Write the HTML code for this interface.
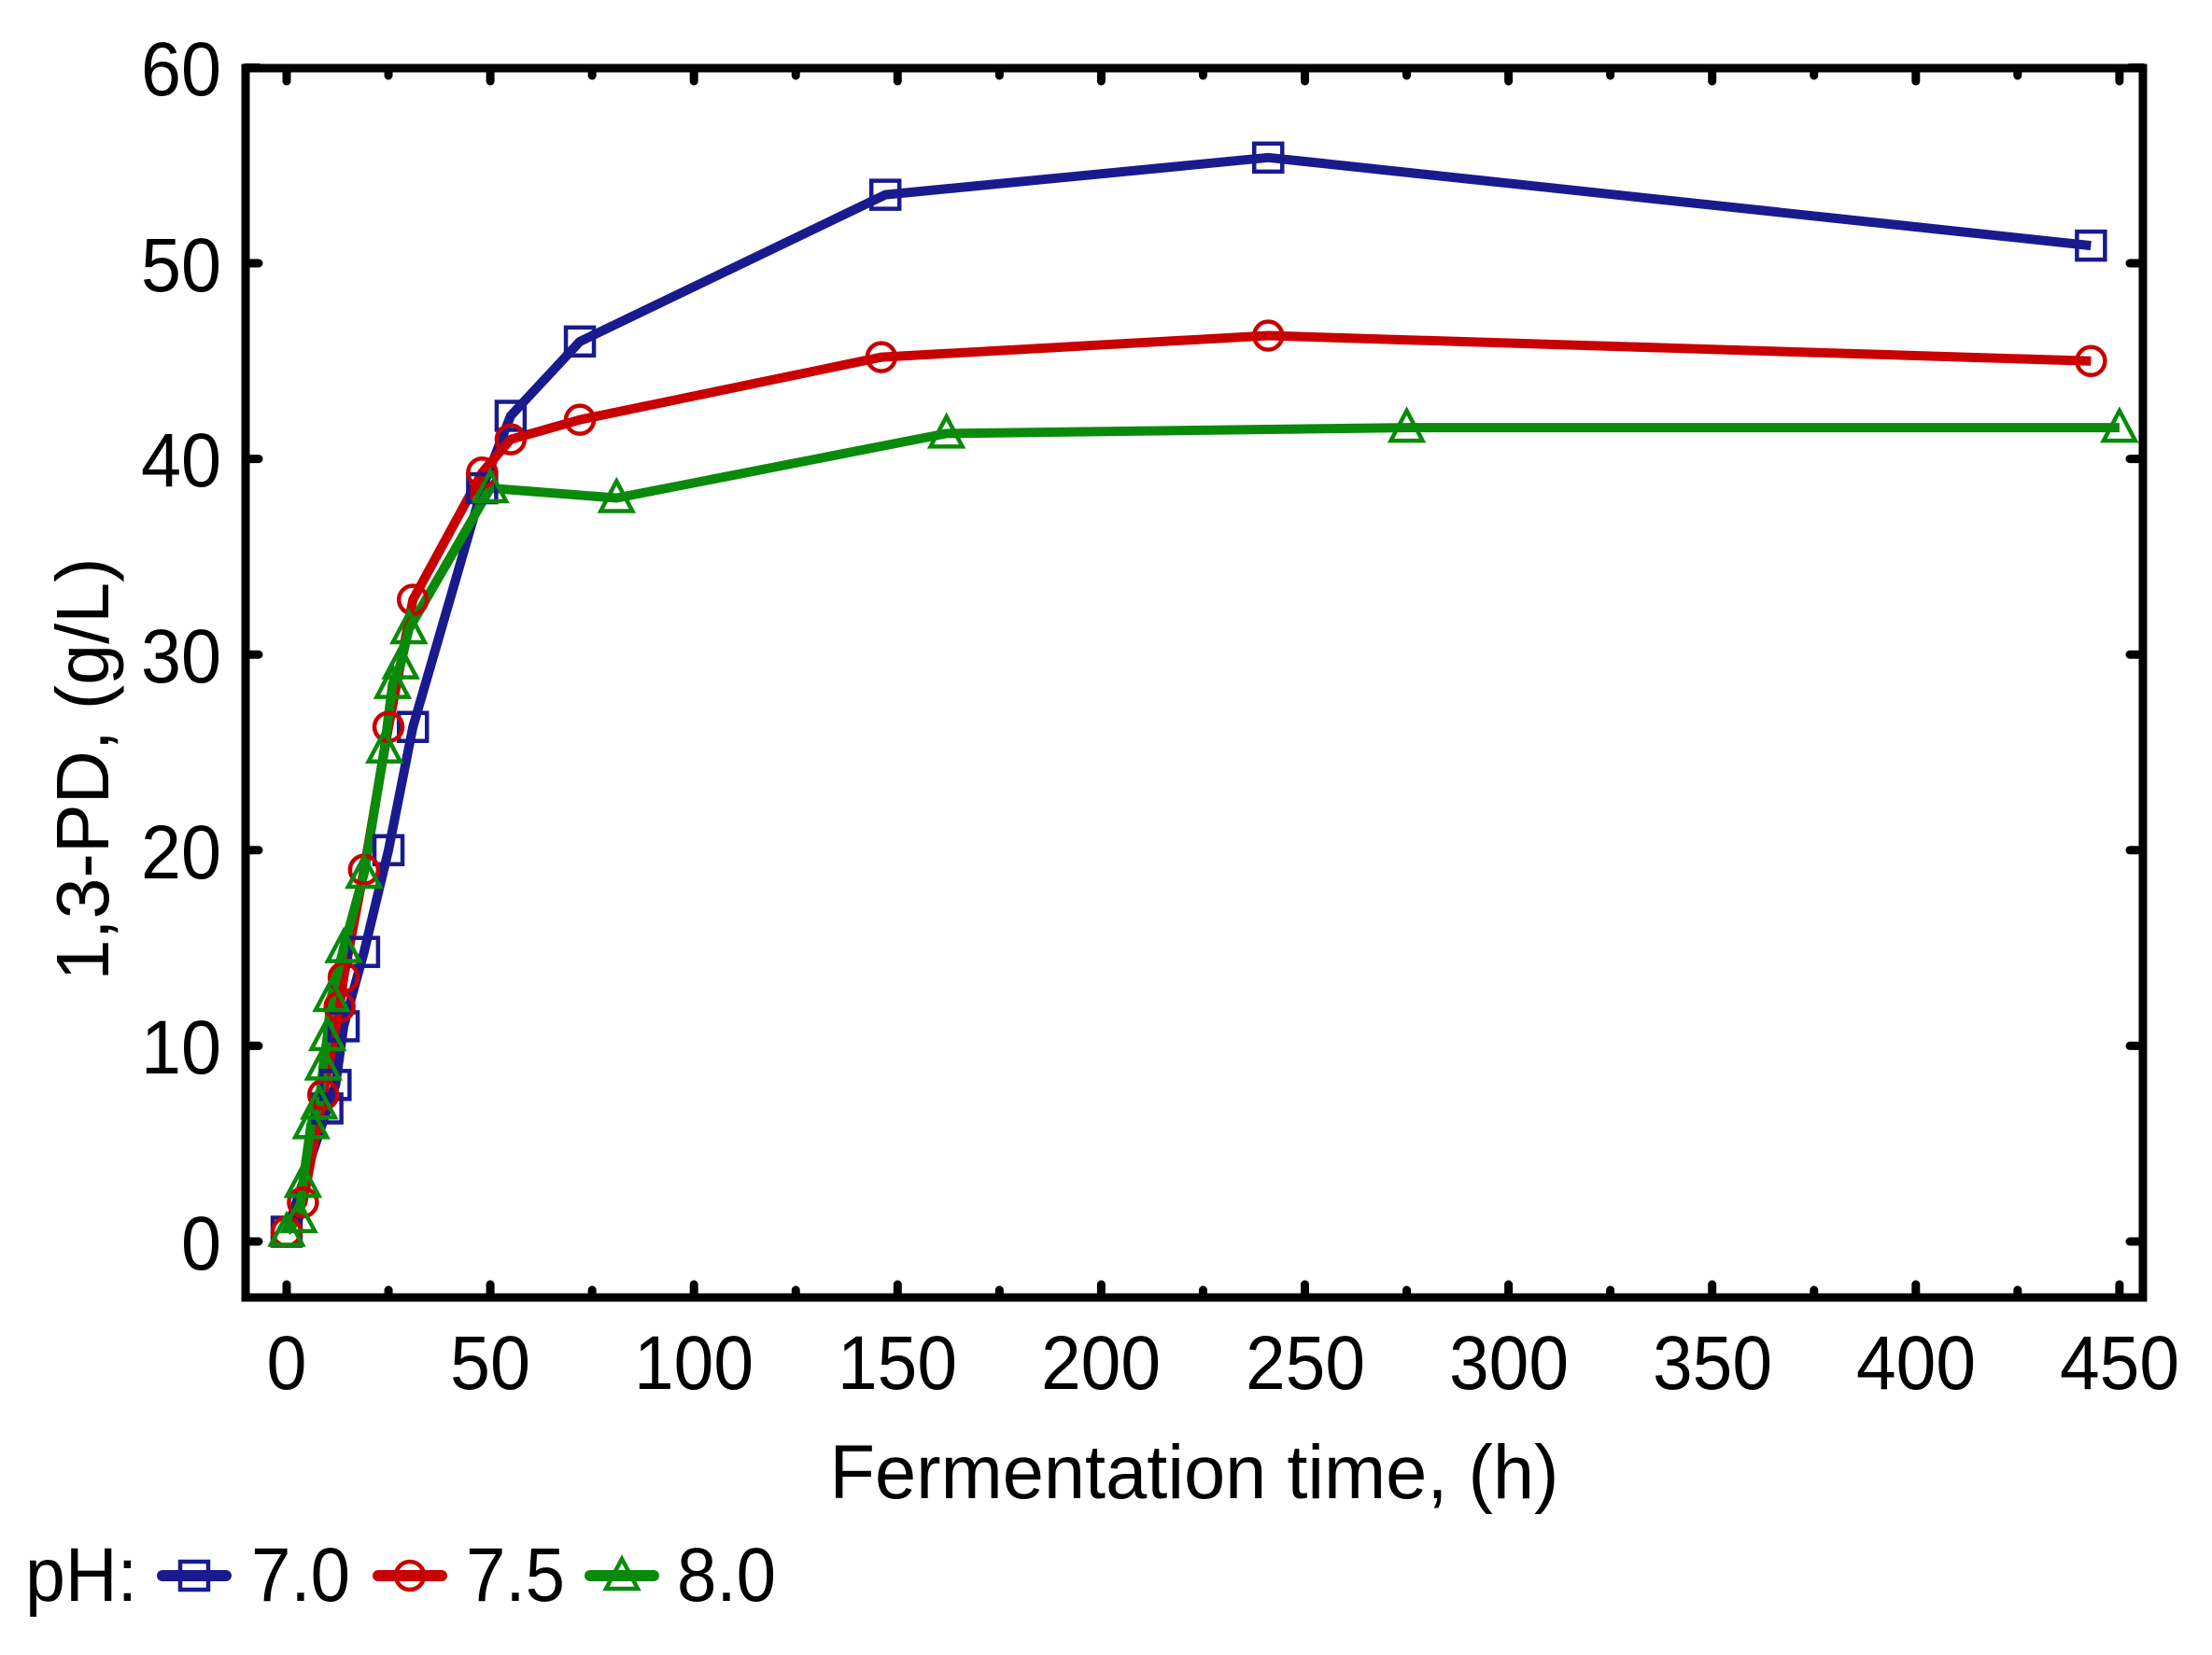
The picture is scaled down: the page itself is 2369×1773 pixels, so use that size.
<!DOCTYPE html>
<html><head><meta charset="utf-8"><style>
html,body{margin:0;padding:0;background:#fff;}
svg{display:block;}
text{font-family:"Liberation Sans",Arial,sans-serif;fill:#000;}
</style></head><body>
<svg id="s" width="2369" height="1773" viewBox="0 0 2369 1773" xmlns="http://www.w3.org/2000/svg">
<g id="ticks"></g>
<g id="series"></g>
<rect x="263" y="73" width="2032" height="1317" fill="none" stroke="#000" stroke-width="9"/>
<g font-size="82" text-anchor="end">
<text x="237" y="1360" textLength="43" lengthAdjust="spacingAndGlyphs">0</text>
<text x="237" y="1150" textLength="86" lengthAdjust="spacingAndGlyphs">10</text>
<text x="237" y="941" textLength="86" lengthAdjust="spacingAndGlyphs">20</text>
<text x="237" y="731" textLength="86" lengthAdjust="spacingAndGlyphs">30</text>
<text x="237" y="521" textLength="86" lengthAdjust="spacingAndGlyphs">40</text>
<text x="237" y="312" textLength="86" lengthAdjust="spacingAndGlyphs">50</text>
<text x="237" y="102" textLength="86" lengthAdjust="spacingAndGlyphs">60</text>
</g>
<g font-size="82" text-anchor="middle">
<text x="307" y="1488" textLength="43" lengthAdjust="spacingAndGlyphs">0</text>
<text x="525" y="1488" textLength="86" lengthAdjust="spacingAndGlyphs">50</text>
<text x="743" y="1488" textLength="128" lengthAdjust="spacingAndGlyphs">100</text>
<text x="961" y="1488" textLength="128" lengthAdjust="spacingAndGlyphs">150</text>
<text x="1179" y="1488" textLength="128" lengthAdjust="spacingAndGlyphs">200</text>
<text x="1398" y="1488" textLength="128" lengthAdjust="spacingAndGlyphs">250</text>
<text x="1616" y="1488" textLength="128" lengthAdjust="spacingAndGlyphs">300</text>
<text x="1834" y="1488" textLength="128" lengthAdjust="spacingAndGlyphs">350</text>
<text x="2052" y="1488" textLength="128" lengthAdjust="spacingAndGlyphs">400</text>
<text x="2270" y="1488" textLength="128" lengthAdjust="spacingAndGlyphs">450</text>
</g>
<text x="1279" y="1605" font-size="82" text-anchor="middle" textLength="781" lengthAdjust="spacingAndGlyphs">Fermentation time, (h)</text>
<text transform="translate(116,824) rotate(-90)" font-size="80" text-anchor="middle" textLength="453" lengthAdjust="spacingAndGlyphs">1,3-PD, (g/L)</text>
<g font-size="82">
<text x="27" y="1715" textLength="120" lengthAdjust="spacingAndGlyphs">pH:</text>
<text x="269" y="1715" textLength="106" lengthAdjust="spacingAndGlyphs">7.0</text>
<text x="499" y="1715" textLength="106" lengthAdjust="spacingAndGlyphs">7.5</text>
<text x="725" y="1715" textLength="106" lengthAdjust="spacingAndGlyphs">8.0</text>
</g>
<g id="legend"></g>
</svg>
<script>
var NS="http://www.w3.org/2000/svg";
function X(v){return 307+v*4.362;}
function Y(v){return 1330-v*20.96;}
function el(p,t,a){var e=document.createElementNS(NS,t);for(var k in a)e.setAttribute(k,a[k]);p.appendChild(e);return e;}
var tg=document.getElementById('ticks');
for(var i=0;i<=18;i++){var x=X(i*25),L=(i%2==0)?14:8;
 el(tg,'line',{x1:x,y1:1390,x2:x,y2:1390-L,stroke:'#000','stroke-width':9,'stroke-linecap':'round'});
 el(tg,'line',{x1:x,y1:73,x2:x,y2:73+L,stroke:'#000','stroke-width':9,'stroke-linecap':'round'});}
for(var j=0;j<=6;j++){var y=Y(j*10);
 el(tg,'line',{x1:263,y1:y,x2:277,y2:y,stroke:'#000','stroke-width':9,'stroke-linecap':'round'});
 el(tg,'line',{x1:2295,y1:y,x2:2281,y2:y,stroke:'#000','stroke-width':9,'stroke-linecap':'round'});}
var S=[
 {c:'#1a1a8f',m:'sq',d:[[0,0.5],[10,6.8],[12,8],[14,11],[19,14.8],[25,20],[31,26.3],[48,38.5],[55,42.2],[72,46],[147,53.5],[241,55.4],[443,50.9]]},
 {c:'#c80000',m:'ci',d:[[0,0.5],[4,2],[9,7.5],[13,12],[14,13.5],[19,19],[25,26.3],[31,32.8],[48,39.3],[55,41],[72,42],[146,45.2],[241,46.3],[443,45]]},
 {c:'#0a8a0a',m:'tr',d:[[0,0.5],[3,1.2],[4,3],[6,6],[8,7],[9,9],[10,10.5],[11,12.5],[14,15],[19,18.8],[24,25.2],[26,28.5],[28,29.5],[30,31.3],[50,38.5],[81,38],[162,41.3],[275,41.6],[450,41.6]]}
];
var sg=document.getElementById('series');
function marker(g,m,x,y,c){
 if(m=='sq')el(g,'rect',{x:x-15,y:y-15,width:30,height:30,fill:'none',stroke:c,'stroke-width':4.5});
 else if(m=='ci')el(g,'circle',{cx:x,cy:y,r:15,fill:'none',stroke:c,'stroke-width':4.5});
 else el(g,'polygon',{points:(x)+','+(y-18)+' '+(x-17)+','+(y+14)+' '+(x+17)+','+(y+14),fill:'none',stroke:c,'stroke-width':4.5});
}
S.forEach(function(s){
 var p=s.d.map(function(d){return X(d[0])+','+Y(d[1]);}).join(' ');
 el(sg,'polyline',{points:p,fill:'none',stroke:s.c,'stroke-width':10,'stroke-linejoin':'round'});
});
S.forEach(function(s){s.d.forEach(function(d){marker(sg,s.m,X(d[0]),Y(d[1]),s.c);});});
var lg=document.getElementById('legend');
[[174,0],[405,1],[632,2]].forEach(function(a){var s=S[a[1]],cx=a[0]+34,cy=1688;
 el(lg,'line',{x1:a[0],y1:cy,x2:a[0]+68,y2:cy,stroke:s.c,'stroke-width':12,'stroke-linecap':'round'});
 marker(lg,s.m,cx,cy,s.c);});
</script>
</body></html>
